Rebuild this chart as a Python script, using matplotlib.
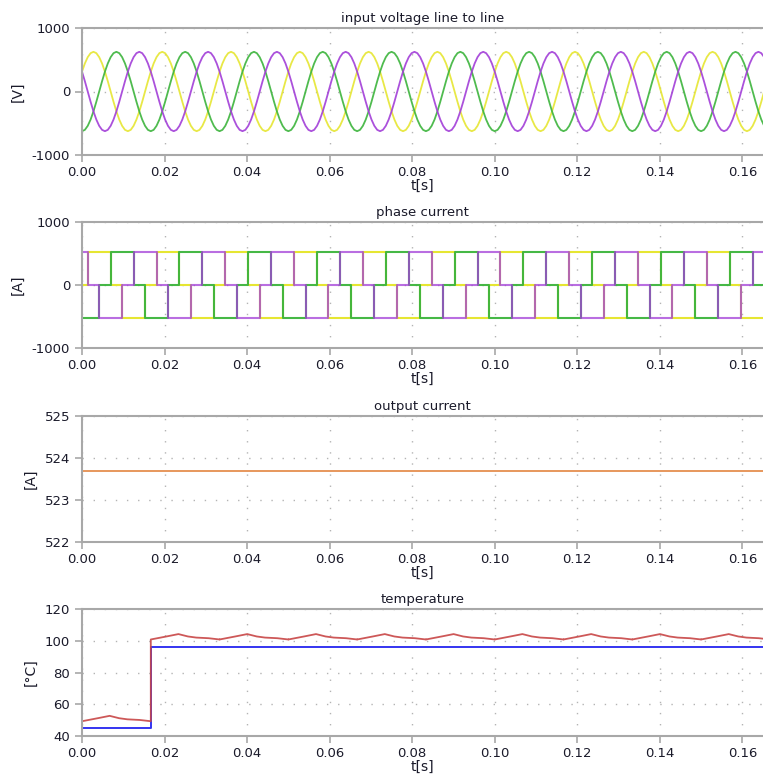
import numpy as np
import matplotlib
matplotlib.use("Agg")
import matplotlib.pyplot as plt

# mains frequency and time span shown on the x axis
f_grid = 60.0
period = 1.0 / f_grid
t_end = 0.165

# one cycle of line-to-line voltage, 24 samples (every 15 deg)
v_cycle = [625, 604, 541, 442, 313, 162, 0, -162, -313, -442, -541, -604,
           -625, -604, -541, -442, -313, -162, 0, 162, 313, 442, 541, 604]
# sample shift of each phase (yellow, green, purple)
v_shift = [4, 12, 20]

# phase current: six-step pattern, one level per 60 deg sector
i_dc = 523.7
sector_start = -period / 12
i_yellow = [0, 1, 1, 0, -1, -1]
i_green = [-1, -1, 0, 1, 1, 0]
i_purple = [1, 0, -1, -1, 0, 1]

# output current
i_out = 523.7

# temperature: red ripple inside one cycle (ms offset, rise above cycle base)
ripple_ms = [0, 2, 4, 6.7, 9, 11, 14, 16.67]
ripple_d = [0, 1.0, 2.0, 3.4, 1.9, 1.2, 0.8, 0]
red_base = [49.3, 100.8]
blue_steps_t = [0.0, 0.01667, t_end]
blue_steps_v = [45.0, 96.3, 96.3]

col_y = "#e6e632"
col_g = "#3cb43c"
col_p = "#a23ed8"
col_o = "#e07a30"
col_r = "#c84646"
col_b = "#3434f0"
spine_col = "#a8a8a8"
txt_col = "#1a1a2a"

W, H = 763, 780
fig = plt.figure(figsize=(W / 100, H / 100), dpi=100)
fig.patch.set_facecolor("white")

left = 82 / W
width = 1.0 - left
tops = [28, 222, 416, 609]
heights = [127, 126, 126, 127]
axes = []
for top, h in zip(tops, heights):
    ax = fig.add_axes([left, (H - top - h) / H, width, h / H])
    axes.append(ax)


def style(ax, title, ylabel, yticks):
    ax.set_xlim(0, t_end)
    ax.set_ylim(yticks[0], yticks[-1])
    ax.set_xticks(np.arange(0, 0.17, 0.02))
    ax.set_xticklabels(["%.2f" % v for v in np.arange(0, 0.17, 0.02)])
    ax.set_yticks(yticks)
    ax.set_yticklabels([str(v) for v in yticks])
    for s in ["left", "bottom", "top"]:
        ax.spines[s].set_color(spine_col)
        ax.spines[s].set_linewidth(1.5)
    ax.spines["right"].set_visible(False)
    ax.tick_params(axis="both", colors=spine_col, labelcolor=txt_col,
                   labelsize=9.5, length=5, width=1.2)
    ax.tick_params(axis="x", pad=3)
    ax.grid(True, color="#b4b4b4", linestyle=(0, (1, 7)), linewidth=1.0)
    ax.set_axisbelow(True)
    ax.set_title(title, fontsize=9.5, color=txt_col, pad=4)
    ax.set_xlabel("t[s]", fontsize=10, color=txt_col, labelpad=0)
    ax.set_ylabel(ylabel, fontsize=10, color=txt_col, labelpad=5)


# input voltage
n = int(t_end / (period / 24)) + 2
k = np.arange(n)
t_v = k * period / 24
cyc = np.array(v_cycle)
ax = axes[0]
for shift, c in zip(v_shift, [col_y, col_g, col_p]):
    ax.plot(t_v, cyc[(k - shift) % 24], color=c, lw=1.3, alpha=0.9)
style(ax, "input voltage line to line", "[V]", [-1000, 0, 1000])

# phase current
n_sec = int((t_end - sector_start) / (period / 6)) + 2
t_i = sector_start + np.arange(n_sec) * period / 6
ax = axes[1]
for pat, c, a in [(i_yellow, col_y, 1.0), (i_green, col_g, 0.95), (i_purple, col_p, 0.75)]:
    lev = np.array(pat * (n_sec // 6 + 1))[:n_sec] * i_dc
    ax.plot(t_i, lev, drawstyle="steps-post", color=c, lw=1.5, alpha=a)
style(ax, "phase current", "[A]", [-1000, 0, 1000])

# output current
ax = axes[2]
ax.plot([0, t_end], [i_out, i_out], color=col_o, lw=1.1)
style(ax, "output current", "[A]", [522, 523, 524, 525])

# temperature
t_r, v_r = [], []
n_cyc = int(t_end / period) + 1
for c_i in range(n_cyc):
    base = red_base[0] if c_i == 0 else red_base[1]
    for off, d in zip(ripple_ms, ripple_d):
        t_r.append(c_i * period + off / 1000.0)
        v_r.append(base + d)
ax = axes[3]
ax.plot(blue_steps_t, blue_steps_v, drawstyle="steps-post", color=col_b, lw=1.4)
ax.plot(t_r, v_r, color=col_r, lw=1.3, alpha=0.9)
style(ax, "temperature", "[\u00b0C]", [40, 60, 80, 100, 120])

fig.savefig("out.png", dpi=100)
